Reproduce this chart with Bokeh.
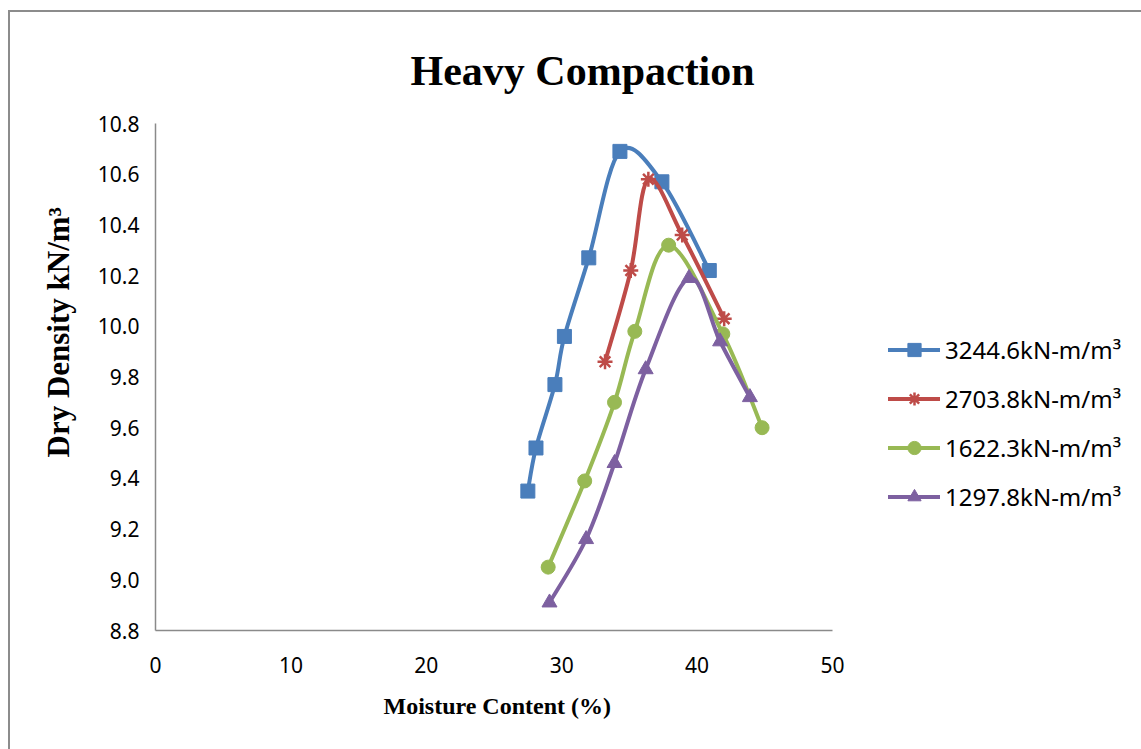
import numpy as np
from bokeh.plotting import figure
from bokeh.models import (Legend, LegendItem, FixedTicker, Range1d, PrintfTickFormatter, Title)
from bokeh.embed import file_html
from bokeh.resources import INLINE

# ---- data ----
labels = ["3244.6kN-m/m³", "2703.8kN-m/m³", "1622.3kN-m/m³", "1297.8kN-m/m³"]

mc_3244 = [27.5, 28.1, 29.5, 30.2, 32.0, 34.3, 37.4, 40.9]
dd_3244 = [9.35, 9.52, 9.77, 9.96, 10.27, 10.69, 10.57, 10.22]

mc_2703 = [33.2, 35.1, 36.4, 38.9, 42.0]
dd_2703 = [9.86, 10.22, 10.58, 10.36, 10.03]

mc_1622 = [29.0, 31.7, 33.9, 35.4, 37.9, 41.9, 44.8]
dd_1622 = [9.05, 9.39, 9.70, 9.98, 10.32, 9.97, 9.60]

mc_1297 = [29.1, 31.8, 33.9, 36.2, 39.4, 41.7, 43.9]
dd_1297 = [8.91, 9.16, 9.46, 9.83, 10.19, 9.94, 9.72]

x_ticks = [0, 10, 20, 30, 40, 50]
y_ticks = [8.8, 9.0, 9.2, 9.4, 9.6, 9.8, 10.0, 10.2, 10.4, 10.6, 10.8]

colors = ["#4A7EBB", "#BE4B48", "#98B954", "#7D60A0"]
markers = ["square", "asterisk", "circle", "triangle"]
sizes = [14, 15, 14, 15]
series = [(mc_3244, dd_3244), (mc_2703, dd_2703), (mc_1622, dd_1622), (mc_1297, dd_1297)]


def smooth_ctrl(xs, ys):
    """Catmull-Rom style bezier control points (Excel-like smoothed line)."""
    x = np.asarray(xs, float)
    y = np.asarray(ys, float)
    n = len(x)
    xp = np.concatenate([[x[0]], x, [x[-1]]])
    yp = np.concatenate([[y[0]], y, [y[-1]]])
    cx0 = x[:-1] + (xp[2:n + 1] - xp[0:n - 1]) / 6.0
    cy0 = y[:-1] + (yp[2:n + 1] - yp[0:n - 1]) / 6.0
    cx1 = x[1:] - (xp[3:n + 2] - xp[1:n]) / 6.0
    cy1 = y[1:] - (yp[3:n + 2] - yp[1:n]) / 6.0
    return dict(x0=x[:-1], y0=y[:-1], x1=x[1:], y1=y[1:],
                cx0=cx0, cy0=cy0, cx1=cx1, cy1=cy1)


# canvas starts at (10, 12) inside the page (8/10 px margin + 2 px border)
p = figure(width=1131, height=737, frame_width=677, frame_height=507,
           x_range=Range1d(0, 50), y_range=Range1d(8.8, 10.8),
           output_backend="svg", toolbar_location=None,
           min_border_left=145, min_border_right=309,
           min_border_top=111, min_border_bottom=119)
p.styles = {"margin-left": "8px", "margin-top": "10px",
            "border-left": "2px solid #8c8c8c", "border-top": "2px solid #8c8c8c"}
p.outline_line_color = None
p.xgrid.visible = False
p.ygrid.visible = False
p.background_fill_color = "white"
p.border_fill_color = "white"

for ax in (p.xaxis, p.yaxis):
    ax.axis_line_color = "#8a8a8a"
    ax.axis_line_width = 1.5
    ax.major_tick_line_color = None
    ax.minor_tick_line_color = None
    ax.major_tick_out = 0
    ax.major_tick_in = 0
    ax.minor_tick_out = 0
    ax.minor_tick_in = 0
    ax.major_label_text_font = "Noto Sans"
    ax.major_label_text_font_size = "21px"
    ax.major_label_text_color = "black"

p.xaxis.ticker = FixedTicker(ticks=x_ticks)
p.yaxis.ticker = FixedTicker(ticks=y_ticks)
p.yaxis.formatter = PrintfTickFormatter(format="%.1f")
p.yaxis.major_label_standoff = 16
p.xaxis.major_label_standoff = 26

items = []
for (xs, ys), col, mk, sz, lab in zip(series, colors, markers, sizes, labels):
    c = smooth_ctrl(xs, ys)
    br = p.bezier(x0=c["x0"], y0=c["y0"], x1=c["x1"], y1=c["y1"],
                  cx0=c["cx0"], cy0=c["cy0"], cx1=c["cx1"], cy1=c["cy1"],
                  line_color=col, line_width=4, line_cap="round")
    if mk == "asterisk":
        sr = p.scatter(xs, ys, marker=mk, size=sz, line_color=col, line_width=2.5)
    else:
        sr = p.scatter(xs, ys, marker=mk, size=sz, fill_color=col, line_color=col)
    items.append(LegendItem(label=lab, renderers=[br, sr]))

legend = Legend(items=items, location=(56, 117))
legend.background_fill_alpha = 0
legend.border_line_color = None
legend.padding = 0
legend.margin = 0
legend.glyph_width = 52
legend.glyph_height = 33
legend.label_height = 33
legend.spacing = 16
legend.label_standoff = 5
legend.label_text_font = "Noto Sans"
legend.label_text_font_size = "24px"
legend.label_text_color = "black"
p.add_layout(legend, "right")

p.title = Title(text="Heavy Compaction", align="left", offset=255,
                vertical_align="bottom", standoff=60,
                text_font="Liberation Serif", text_font_style="bold",
                text_font_size="42px", text_color="black")

ytitle = Title(text="Dry Density kN/m³", align="left", offset=173, standoff=37,
               text_font="Liberation Serif", text_font_style="bold",
               text_font_size="31px", text_color="black")
p.add_layout(ytitle, "left")

xtitle = Title(text="Moisture Content (%)", align="left", offset=228, standoff=31,
               text_font="Liberation Serif", text_font_style="bold",
               text_font_size="24px", text_color="black")
p.add_layout(xtitle, "below")

open("out.html", "w").write(file_html(p, INLINE))
